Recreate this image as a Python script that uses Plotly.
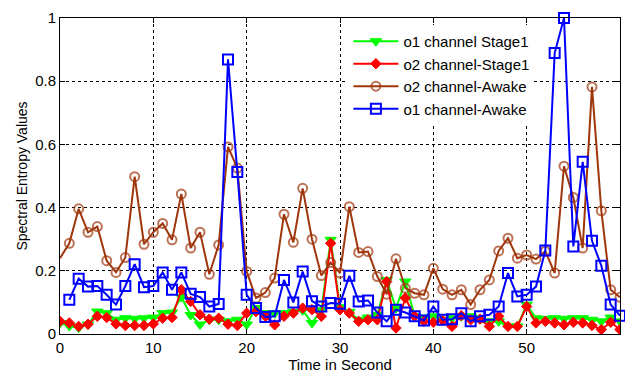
import plotly.graph_objects as go

time = list(range(0, 61))

o1_stage1 = [0.035, 0.025, 0.020, 0.030, 0.071, 0.066, 0.045, 0.050, 0.048, 0.050,
             0.052, 0.066, 0.068, 0.117, 0.060, 0.030, 0.045, 0.045, 0.040, 0.045,
             0.030, 0.082, 0.066, 0.066, 0.066, 0.070, 0.075, 0.035, 0.075, 0.298,
             0.085, 0.070, 0.045, 0.052, 0.060, 0.171, 0.082, 0.166, 0.056, 0.052,
             0.056, 0.045, 0.050, 0.056, 0.056, 0.050, 0.040, 0.040, 0.024, 0.024,
             0.093, 0.050, 0.048, 0.050, 0.048, 0.050, 0.050, 0.045, 0.040, 0.052,
             0.040]

o2_stage1 = [0.040, 0.035, 0.024, 0.031, 0.056, 0.052, 0.032, 0.027, 0.027, 0.027,
             0.032, 0.050, 0.052, 0.140, 0.103, 0.061, 0.047, 0.050, 0.031, 0.027,
             0.066, 0.071, 0.056, 0.029, 0.056, 0.066, 0.082, 0.077, 0.056, 0.287,
             0.077, 0.066, 0.040, 0.045, 0.045, 0.166, 0.019, 0.114, 0.056, 0.040,
             0.037, 0.043, 0.024, 0.058, 0.045, 0.047, 0.024, 0.056, 0.024, 0.024,
             0.087, 0.035, 0.040, 0.035, 0.029, 0.037, 0.035, 0.027, 0.014, 0.037,
             0.014]

o2_awake = [0.240, 0.287, 0.396, 0.322, 0.340, 0.232, 0.195, 0.242, 0.498, 0.284,
            0.322, 0.350, 0.298, 0.443, 0.272, 0.322, 0.189, 0.282, 0.592, 0.525,
            0.198, 0.114, 0.131, 0.177, 0.379, 0.290, 0.461, 0.300, 0.185, 0.226,
            0.193, 0.403, 0.258, 0.261, 0.182, 0.126, 0.238, 0.145, 0.129, 0.124,
            0.208, 0.142, 0.124, 0.140, 0.093, 0.140, 0.171, 0.263, 0.303, 0.240,
            0.250, 0.237, 0.262, 0.193, 0.531, 0.432, 0.272, 0.782, 0.390, 0.140,
            0.116]

o1_awake = [None, 0.108, 0.175, 0.150, 0.152, 0.124, 0.093, 0.152, 0.221, 0.148,
            0.152, 0.195, 0.140, 0.195, 0.127, 0.117, 0.087, 0.095, 0.869, 0.513,
            0.124, 0.082, 0.054, 0.056, 0.171, 0.100, 0.198, 0.104, 0.087, 0.098,
            0.096, 0.184, 0.103, 0.106, 0.068, 0.040, 0.077, 0.068, 0.056, 0.043,
            0.087, 0.045, 0.047, 0.066, 0.040, 0.056, 0.061, 0.087, 0.193, 0.119,
            0.124, 0.150, 0.264, 0.889, 1.000, 0.277, 0.545, 0.295, 0.216, 0.093,
            0.058]

x_ticks = [0, 10, 20, 30, 40, 50, 60]
y_ticks = [0, 0.2, 0.4, 0.6, 0.8, 1]
y_tick_text = ["0", "0.2", "0.4", "0.6", "0.8", "1"]

GREEN = "#00FF00"
RED = "#FF0000"
BROWN = "#A0360C"
BLUE = "#0000FF"
FONT = "Liberation Sans, Arial, sans-serif"

fig = go.Figure()
fig.add_trace(go.Scatter(
    x=time, y=o1_stage1, name="o1 channel Stage1", mode="lines+markers",
    line=dict(color=GREEN, width=2),
    marker=dict(symbol="triangle-down", size=10, color=GREEN,
                line=dict(color=GREEN, width=1)),
))
fig.add_trace(go.Scatter(
    x=time, y=o2_stage1, name="o2 channel-Stage1", mode="lines+markers",
    line=dict(color=RED, width=2),
    marker=dict(symbol="diamond", size=8, color=RED,
                line=dict(color=RED, width=1)),
))
fig.add_trace(go.Scatter(
    x=time, y=o2_awake, name="o2 channel-Awake", mode="lines+markers",
    line=dict(color=BROWN, width=2),
    marker=dict(symbol="circle-open", size=[0] + [9] * 60, color=BROWN,
                line=dict(color=BROWN, width=2)),
))
fig.add_trace(go.Scatter(
    x=time, y=o1_awake, name="o1 channel-Awake", mode="lines+markers",
    line=dict(color=BLUE, width=2),
    marker=dict(symbol="square-open", size=10, color=BLUE,
                line=dict(color=BLUE, width=2)),
    cliponaxis=False,
))

axis_common = dict(
    showline=True, linecolor="black", linewidth=1, mirror="ticks",
    ticks="inside", ticklen=5, tickcolor="black",
    showgrid=True, gridcolor="black", gridwidth=1, griddash="dot",
    zeroline=False,
    tickfont=dict(family=FONT, size=15, color="black"),
)

fig.update_xaxes(
    range=[0, 60], tickvals=x_ticks, ticktext=[str(v) for v in x_ticks],
    title=dict(text="Time in Second", standoff=3,
               font=dict(family=FONT, size=15, color="black")),
    **axis_common,
)
fig.update_yaxes(
    range=[0, 1], tickvals=y_ticks, ticktext=y_tick_text,
    title=dict(text="Spectral Entropy Values", standoff=4,
               font=dict(family=FONT, size=14, color="black")),
    **axis_common,
)

fig.update_layout(
    width=625, height=374,
    margin=dict(l=60, r=5, t=18, b=40),
    paper_bgcolor="white", plot_bgcolor="white",
    font=dict(family=FONT, size=15, color="black"),
    legend=dict(
        x=0.515, y=0.978, xanchor="left", yanchor="top",
        bgcolor="white", borderwidth=0,
        font=dict(family=FONT, size=15, color="black"),
        tracegroupgap=0, itemwidth=45,
    ),
)

fig.write_html("out.html")
